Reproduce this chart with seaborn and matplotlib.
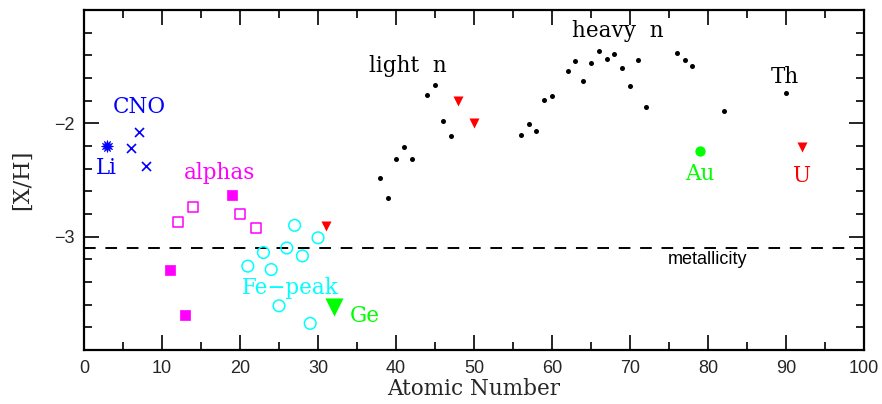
import matplotlib
matplotlib.use("Agg")
import matplotlib.pyplot as plt
import seaborn as sns
from matplotlib.ticker import MultipleLocator, FixedLocator

sns.set_style("ticks")
plt.rcParams["font.family"] = ["DejaVu Serif", "DejaVu Sans"]

# Abundances [X/H] against atomic number
li_z = [3]
li_xh = [-2.20]

cno_z = [6, 7, 8]
cno_xh = [-2.215, -2.08, -2.375]

alpha_open_z = [12, 14, 20, 22]
alpha_open_xh = [-2.87, -2.74, -2.80, -2.92]

alpha_fill_z = [11, 13, 19]
alpha_fill_xh = [-3.29, -3.69, -2.635]

fepeak_z = [21, 23, 24, 25, 26, 27, 28, 29, 30]
fepeak_xh = [-3.26, -3.14, -3.29, -3.61, -3.10, -2.90, -3.17, -3.765, -3.01]

ncap_z = [38, 39, 40, 41, 42, 44, 45, 46, 47,
          56, 57, 58, 59, 60, 62, 63, 64, 65, 66, 67, 68, 69, 70, 71, 72,
          76, 77, 78, 82, 90]
ncap_xh = [-2.485, -2.655, -2.315, -2.21, -2.315, -1.75, -1.66, -1.975, -2.115,
           -2.105, -2.005, -2.07, -1.79, -1.76, -1.54, -1.45, -1.63, -1.47,
           -1.36, -1.43, -1.39, -1.51, -1.67, -1.44, -1.855,
           -1.38, -1.44, -1.49, -1.89, -1.73]

upper_z = [31, 48, 50]
upper_xh = [-2.905, -1.80, -2.00]

ge_z = [32]
ge_xh = [-3.62]

au_z = [79]
au_xh = [-2.245]

u_z = [92]
u_xh = [-2.205]

metallicity = -3.1

BLUE = "#0000ff"
MAGENTA = "#ff00ff"
CYAN = "#00ffff"
GREEN = "#00ff00"
RED = "#ff0000"

fig = plt.figure(figsize=(8.82, 4.04), dpi=100)
ax = fig.add_axes([84 / 882, 1 - 350 / 404, 780 / 882, 340 / 404])

ax.axhline(metallicity, color="black", lw=1.4, linestyle=(0, (6, 5)), zorder=1)

sns.scatterplot(x=li_z, y=li_xh, marker=(12, 1, 0), s=75, color=BLUE,
                edgecolor=BLUE, linewidth=0.5, ax=ax, zorder=3)
sns.scatterplot(x=cno_z, y=cno_xh, marker="x", s=42, color=BLUE,
                linewidth=1.2, ax=ax, zorder=3)
sns.scatterplot(x=alpha_open_z, y=alpha_open_xh, marker="s", s=52,
                facecolor="none", edgecolor=MAGENTA, linewidth=1.1, ax=ax, zorder=3)
sns.scatterplot(x=alpha_fill_z, y=alpha_fill_xh, marker="s", s=52,
                color=MAGENTA, edgecolor=MAGENTA, linewidth=0.5, ax=ax, zorder=3)
sns.scatterplot(x=fepeak_z, y=fepeak_xh, marker="o", s=70,
                facecolor="none", edgecolor=CYAN, linewidth=1.1, ax=ax, zorder=3)
sns.scatterplot(x=ncap_z, y=ncap_xh, marker="o", s=13, color="black",
                edgecolor="black", linewidth=0, ax=ax, zorder=3)
sns.scatterplot(x=upper_z, y=upper_xh, marker="v", s=52, color=RED,
                edgecolor=RED, linewidth=0, ax=ax, zorder=3)
sns.scatterplot(x=ge_z, y=ge_xh, marker="v", s=170, color=GREEN,
                edgecolor=GREEN, linewidth=0, ax=ax, zorder=3)
sns.scatterplot(x=au_z, y=au_xh, marker="o", s=55, color=GREEN,
                edgecolor=GREEN, linewidth=0, ax=ax, zorder=3)
sns.scatterplot(x=u_z, y=u_xh, marker="v", s=52, color=RED,
                edgecolor=RED, linewidth=0, ax=ax, zorder=3)

# Group labels
fs = 15.5
ax.text(7.14, -1.912, "CNO", color=BLUE, fontsize=fs, ha="center", va="baseline")
ax.text(2.9, -2.447, "Li", color=BLUE, fontsize=fs, ha="center", va="baseline")
ax.text(17.4, -2.494, "alphas", color=MAGENTA, fontsize=fs, ha="center", va="baseline")
ax.text(26.5, -3.509, "Fe\u2212peak", color=CYAN, fontsize=fs, ha="center", va="baseline")
ax.text(35.97, -3.75, "Ge", color=GREEN, fontsize=fs, ha="center", va="baseline")
ax.text(41.5, -1.544, "light  n", color="black", fontsize=fs, ha="center", va="baseline")
ax.text(68.5, -1.235, "heavy  n", color="black", fontsize=fs, ha="center", va="baseline")
ax.text(89.9, -1.647, "Th", color="black", fontsize=fs, ha="center", va="baseline")
ax.text(78.9, -2.50, "Au", color=GREEN, fontsize=fs, ha="center", va="baseline")
ax.text(92.05, -2.515, "U", color=RED, fontsize=fs, ha="center", va="baseline")
ax.text(80.0, -3.241, "metallicity", color="black", fontsize=13,
        family=["Liberation Sans", "DejaVu Sans"], ha="center", va="baseline")

ax.set_xlim(0, 100)
ax.set_ylim(-4, -1)
ax.xaxis.set_major_locator(MultipleLocator(10))
ax.xaxis.set_minor_locator(MultipleLocator(5))
ax.yaxis.set_major_locator(FixedLocator([-3, -2]))
ax.yaxis.set_minor_locator(MultipleLocator(0.2))

for side in ["top", "bottom", "left", "right"]:
    ax.spines[side].set_visible(True)
    ax.spines[side].set_linewidth(1.6)
    ax.spines[side].set_color("black")

ax.tick_params(which="both", direction="in", top=True, right=True,
               color="black", width=1.2)
ax.tick_params(which="major", length=11)
ax.tick_params(which="minor", length=6)
ax.tick_params(axis="both", which="major", labelsize=13, pad=7)
for lab in ax.get_xticklabels() + ax.get_yticklabels():
    lab.set_family(["Liberation Sans Narrow", "Liberation Sans", "DejaVu Sans"])

ax.set_xlabel("Atomic Number", fontsize=15.5, labelpad=1)
ax.set_ylabel("[X/H]", fontsize=16, labelpad=15)

fig.savefig("out.png", dpi=100)
